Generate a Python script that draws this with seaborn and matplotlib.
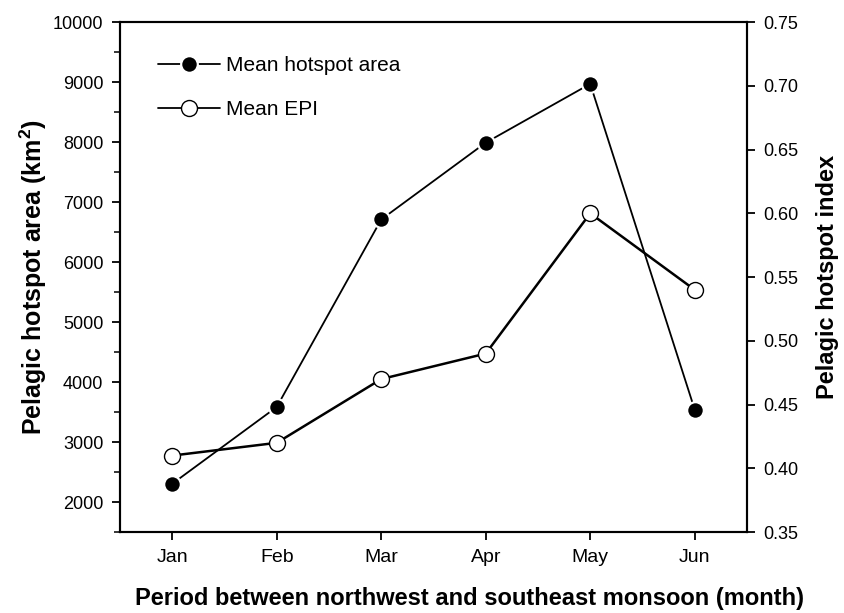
import pandas as pd
import matplotlib
matplotlib.use("Agg")
import matplotlib.pyplot as plt
from matplotlib.ticker import MultipleLocator
from matplotlib.lines import Line2D
import seaborn as sns

sns.set_theme(style="white")
plt.rcParams['font.family'] = ['Liberation Sans', 'DejaVu Sans']
plt.rcParams['text.color'] = 'black'
plt.rcParams['axes.labelcolor'] = 'black'
plt.rcParams['mathtext.fontset'] = 'custom'
plt.rcParams['mathtext.rm'] = 'Liberation Sans'
plt.rcParams['mathtext.bf'] = 'Liberation Sans:bold'

# Data
months = ["Jan", "Feb", "Mar", "Apr", "May", "Jun"]
hotspot_area = [2305, 3585, 6710, 7990, 8970, 3540]
epi = [0.41, 0.42, 0.47, 0.49, 0.60, 0.54]

df = pd.DataFrame({"month": months, "area": hotspot_area, "epi": epi})

fig = plt.figure(figsize=(8.45, 6.13), dpi=100)
ax = fig.add_axes([0.142, 0.132, 0.742, 0.832])
ax2 = ax.twinx()

# Mean hotspot area (left axis)
sns.lineplot(data=df, x="month", y="area", ax=ax, color="black", lw=1.3,
             marker="o", markersize=12, markerfacecolor="black",
             markeredgecolor="white", markeredgewidth=1.6, sort=False)
# Mean EPI (right axis)
sns.lineplot(data=df, x="month", y="epi", ax=ax2, color="black", lw=1.8,
             marker="o", markersize=11.5, markerfacecolor="white",
             markeredgecolor="black", markeredgewidth=1.0, sort=False)

ax.set_xlim(-0.5, 5.5)
ax.set_ylim(1500, 10000)
ax2.set_ylim(0.35, 0.75)
ax.set_yticks(range(2000, 10001, 1000))
ax.yaxis.set_minor_locator(MultipleLocator(500))
ax2.set_yticks([0.35, 0.40, 0.45, 0.50, 0.55, 0.60, 0.65, 0.70, 0.75])
ax2.set_yticklabels([f"{v:.2f}" for v in ax2.get_yticks()])

for spine in list(ax.spines.values()) + list(ax2.spines.values()):
    spine.set_color("black")
    spine.set_linewidth(1.5)

ax.tick_params(axis="both", which="major", direction="out", length=6, width=1.3,
               labelsize=13, colors="black", left=True, bottom=True, pad=6)
ax.tick_params(axis="y", which="minor", direction="out", length=4, width=1.3,
               left=True)
ax2.tick_params(axis="y", which="major", direction="out", length=6, width=1.3,
                labelsize=13, colors="black", right=True, pad=6)
ax.tick_params(axis="x", labelsize=14, pad=6)

ax.set_xlabel("Period between northwest and southeast monsoon (month)",
              fontsize=17, fontweight="bold")
ax.xaxis.set_label_coords(0.558, -0.108)
ax.set_ylabel(r"Pelagic hotspot area (km$^\mathbf{2}$)", fontsize=18,
              fontweight="bold", labelpad=3)
ax2.set_ylabel("Pelagic hotspot index", fontsize=17, fontweight="bold",
               labelpad=12)
ax.grid(False)
ax2.grid(False)

handles = [
    Line2D([], [], color="black", lw=1.3, marker="o", markersize=12,
           markerfacecolor="black", markeredgecolor="white", markeredgewidth=1.6),
    Line2D([], [], color="black", lw=1.3, marker="o", markersize=11.5,
           markerfacecolor="white", markeredgecolor="black", markeredgewidth=1.0),
]
ax.legend(handles, ["Mean hotspot area", "Mean EPI"], loc="upper left",
          frameon=False, fontsize=15, handlelength=3.0, labelspacing=1.2,
          bbox_to_anchor=(0.03, 0.97), handletextpad=0.3)
if ax2.get_legend():
    ax2.get_legend().remove()

fig.savefig("out.png", dpi=100)
